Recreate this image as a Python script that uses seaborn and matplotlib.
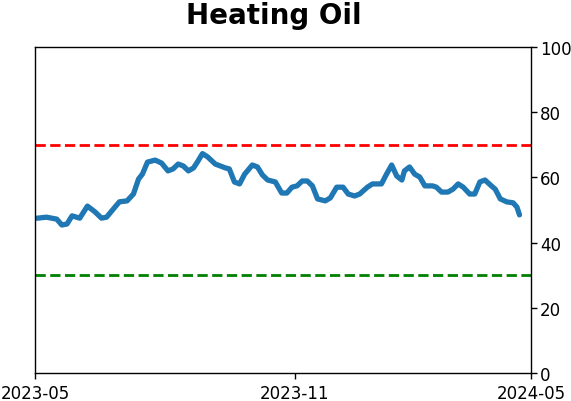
import pandas as pd
import matplotlib
matplotlib.use("Agg")
import matplotlib.pyplot as plt
import seaborn as sns

dates = ["2023-05-01", "2023-05-03", "2023-05-10", "2023-05-18", "2023-05-22", "2023-05-26",
         "2023-05-30", "2023-06-05", "2023-06-11", "2023-06-17", "2023-06-22", "2023-06-26",
         "2023-06-30", "2023-07-06", "2023-07-12", "2023-07-17", "2023-07-21", "2023-07-24",
         "2023-07-28", "2023-08-03", "2023-08-08", "2023-08-13", "2023-08-17", "2023-08-21",
         "2023-08-25", "2023-08-29", "2023-09-02", "2023-09-05", "2023-09-09", "2023-09-13",
         "2023-09-19", "2023-09-23", "2023-09-27", "2023-09-30", "2023-10-04", "2023-10-08",
         "2023-10-12", "2023-10-18", "2023-10-22", "2023-10-26", "2023-10-30", "2023-11-05",
         "2023-11-10", "2023-11-14", "2023-11-18", "2023-11-22", "2023-11-26", "2023-11-30",
         "2023-12-04", "2023-12-08", "2023-12-14", "2023-12-18", "2023-12-23", "2023-12-28",
         "2024-01-01", "2024-01-06", "2024-01-10", "2024-01-16", "2024-01-20", "2024-01-27",
         "2024-01-31", "2024-02-04", "2024-02-08", "2024-02-12", "2024-02-14", "2024-02-18",
         "2024-02-22", "2024-02-26", "2024-03-01", "2024-03-07", "2024-03-10", "2024-03-14",
         "2024-03-19", "2024-03-23", "2024-03-27", "2024-03-31", "2024-04-05", "2024-04-09",
         "2024-04-13", "2024-04-17", "2024-04-22", "2024-04-25", "2024-04-29", "2024-05-04",
         "2024-05-09", "2024-05-12", "2024-05-14"]
values = [47.5, 47.5, 47.8, 47.2, 45.4, 45.7,
          48.2, 47.5, 51.2, 49.4, 47.5, 47.8,
          49.7, 52.5, 52.8, 54.9, 59.5, 61.0,
          64.7, 65.3, 64.4, 62.0, 62.6, 64.1,
          63.5, 62.0, 62.9, 64.7, 67.3, 66.3,
          64.1, 63.5, 62.9, 62.6, 58.6, 58.0,
          61.0, 63.8, 63.2, 60.7, 59.2, 58.6,
          55.2, 55.2, 57.0, 57.4, 58.9, 58.9,
          57.4, 53.4, 52.8, 53.7, 57.0, 57.0,
          54.9, 54.3, 54.9, 57.0, 58.0, 58.0,
          61.0, 63.8, 60.4, 59.2, 62.0, 63.2,
          61.0, 60.1, 57.4, 57.4, 57.0, 55.5,
          55.5, 56.4, 58.0, 57.0, 54.9, 54.9,
          58.6, 59.2, 57.4, 56.4, 53.4, 52.5,
          52.2, 50.9, 48.5]

upper_level = 70
lower_level = 30
x_start = "2023-05-01"
x_end = "2024-05-23"
tick_dates = ["2023-05-01", "2023-11-20", "2024-05-23"]
tick_labels = ["2023-05", "2023-11", "2024-05"]
y_ticks = [0, 20, 40, 60, 80, 100]

df = pd.DataFrame({"date": pd.to_datetime(dates), "value": values})

sns.set_style("ticks")
plt.rcParams["font.family"] = ["DejaVu Sans"]

fig = plt.figure(figsize=(5.71, 4.02), dpi=100)
ax = fig.add_axes([35 / 571, 28 / 402, 496 / 571, 326 / 402])

sns.lineplot(data=df, x="date", y="value", ax=ax, color="#1f77b4", linewidth=3.8)
ax.axhline(upper_level, color="red", linestyle="--", linewidth=2)
ax.axhline(lower_level, color="green", linestyle="--", linewidth=2)

ax.set_xlim(pd.Timestamp(x_start), pd.Timestamp(x_end))
ax.set_ylim(0, 100)
ax.set_xticks(pd.to_datetime(tick_dates))
ax.set_xticklabels(tick_labels, fontsize=12)
ax.set_yticks(y_ticks)
ax.set_yticklabels([str(v) for v in y_ticks], fontsize=12)
ax.yaxis.tick_right()
ax.set_xlabel("")
ax.set_ylabel("")
for s in ax.spines.values():
    s.set_visible(True)
    s.set_color("black")
    s.set_linewidth(1)
ax.tick_params(colors="black", labelcolor="black", length=4.5, width=1)
ax.tick_params(axis="y", pad=2)

fig.suptitle("Heating Oil", fontsize=20, fontweight="bold", color="black", x=0.48, y=0.995)

fig.savefig("out.png", dpi=100)
